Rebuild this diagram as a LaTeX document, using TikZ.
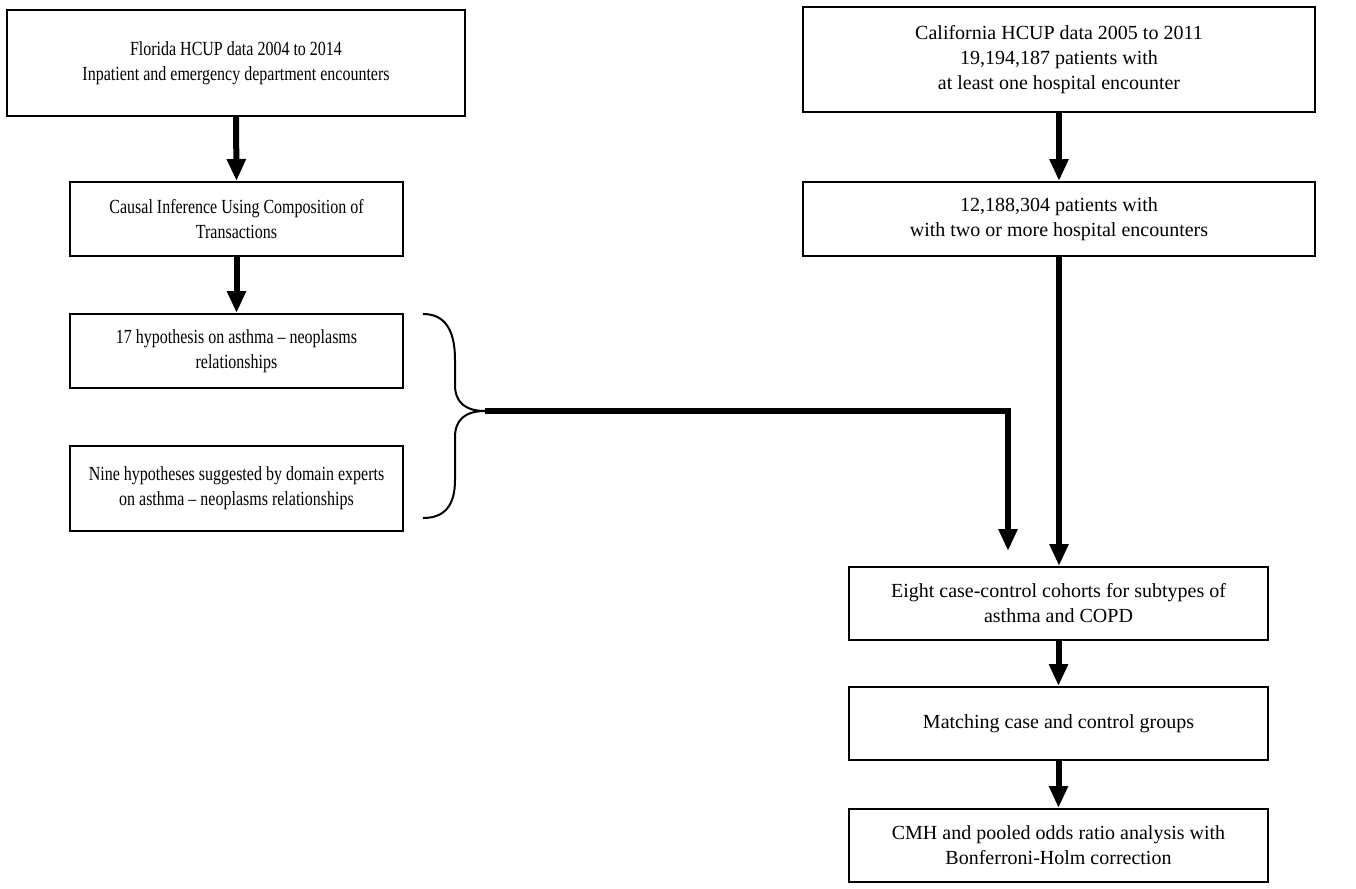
\documentclass[tikz,border=0pt]{standalone}
\usepackage{fontspec}
\setmainfont{Liberation Serif}
\newfontfamily\condfont[FakeStretch=0.8]{Liberation Serif}
\usetikzlibrary{arrows.meta}
\begin{document}
\begin{tikzpicture}[x=1pt,y=-1pt,
  box/.style={draw, line width=2pt, inner sep=0pt, align=center,
    font=\fontsize{20}{25}\selectfont},
  lbox/.style={box, font=\fontsize{20}{25}\selectfont\condfont},
  flow/.style={line width=6pt, -{Triangle[width=18pt,length=22pt]}},
  bracestyle/.style={line width=2pt}]
\useasboundingbox (0,0) rectangle (1356,888);
% left column
\node[lbox, minimum width=458pt, minimum height=106pt] (fl) at (236,63)
  {Florida HCUP data 2004 to 2014\\Inpatient and emergency department encounters};
\node[lbox, minimum width=333pt, minimum height=74pt] (ci) at (236.5,219)
  {Causal Inference Using Composition of\\Transactions};
\node[lbox, minimum width=333pt, minimum height=74pt] (h17) at (236.5,351)
  {17 hypothesis on asthma \textendash{} neoplasms\\relationships};
\node[lbox, minimum width=333pt, minimum height=85pt] (nine) at (236.5,488.5)
  {Nine hypotheses suggested by domain experts\\on asthma \textendash{} neoplasms relationships};
% right column
\node[box, minimum width=512pt, minimum height=105pt] (ca) at (1059,59.5)
  {California HCUP data 2005 to 2011\\19,194,187 patients with\\at least one hospital encounter};
\node[box, minimum width=512pt, minimum height=74pt] (tw) at (1059,219)
  {12,188,304 patients with\\with two or more hospital encounters};
\node[box, minimum width=419pt, minimum height=73pt] (eight) at (1058.5,603.5)
  {Eight case-control cohorts for subtypes of\\asthma and COPD};
\node[box, minimum width=419pt, minimum height=73pt] (match) at (1058.5,723.5)
  {Matching case and control groups};
\node[box, minimum width=419pt, minimum height=73pt] (cmh) at (1058.5,845.5)
  {CMH and pooled odds ratio analysis with\\Bonferroni-Holm correction};
% brace
\coordinate (bt) at (485,411);
\coordinate (bend) at (1008,551);
\draw[bracestyle] (423,314) .. controls (445,314) and (455,330) .. (455,360)
  -- (455,385) .. controls (455,402) and (465,411) .. (bt)
  .. controls (465,411) and (455,420) .. (455,437)
  -- (455,480) .. controls (455,505) and (445,518) .. (423,518);
% arrows
\draw[flow] (fl.south) -- (ci.north);
\draw[flow] (ci.south) -- (h17.north);
\draw[flow] (ca.south) -- (tw.north);
\draw[flow] (tw.south) -- (tw.south |- eight.north);
\draw[flow] (eight.south) -- (match.north);
\draw[flow] (match.south) -- (cmh.north);
\draw[flow] (bt) -- (bt -| bend) -- (bend);
\end{tikzpicture}
\end{document}
